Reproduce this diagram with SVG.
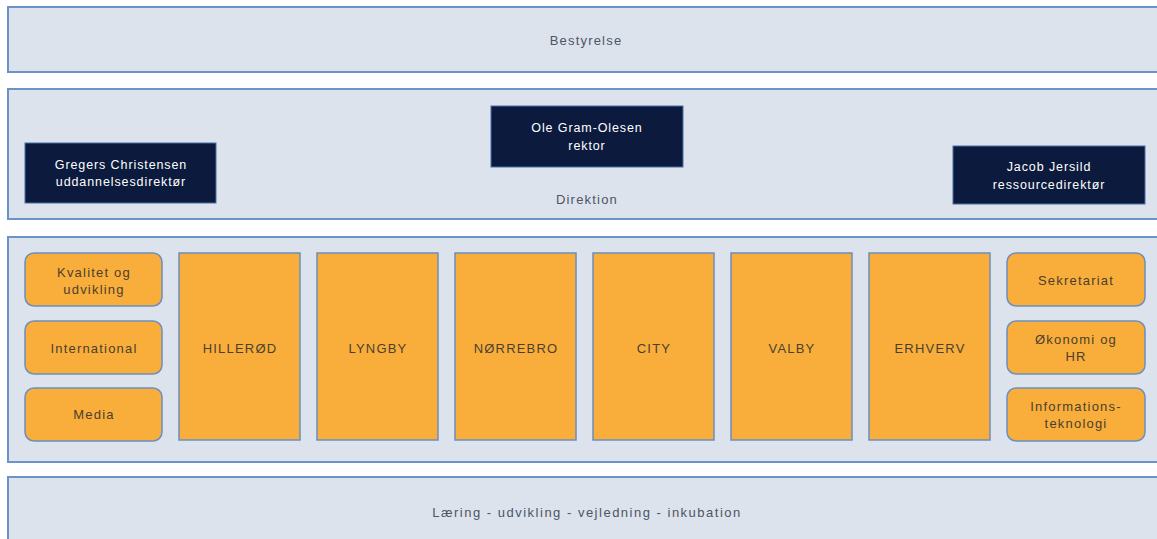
<svg xmlns="http://www.w3.org/2000/svg" width="1157" height="539" viewBox="0 0 1157 539">
<style>
.band{fill:#dce3ec;stroke:#6b93c9;stroke-width:2}
.dark{fill:#0b1a3d;stroke:#4a6fa8;stroke-width:1}
.org{fill:#f9ae3c;stroke:#6a8fc0;stroke-width:1.5}
text{font-family:"Liberation Sans",Arial,sans-serif;font-size:13px;letter-spacing:1.2px;text-anchor:middle}
.bt{fill:#4d5566}
.wide{letter-spacing:1.5px}
.wt{fill:#ffffff;font-size:12.5px;letter-spacing:0.9px}
.ot{fill:#4a3f2c}
</style>
<rect width="1157" height="539" fill="#ffffff"/>
<g id="bestyrelse">
<rect class="band" x="8" y="7" width="1170" height="65"/>
<text class="bt" x="586" y="45">Bestyrelse</text>
</g>
<g id="direktion">
<rect class="band" x="8" y="89" width="1170" height="130"/>
<text class="bt" x="587" y="204">Direktion</text>
</g>
<g id="gregers">
<rect class="dark" x="25" y="143" width="191" height="60"/>
<text class="wt" x="121" y="169">Gregers Christensen</text>
<text class="wt" x="121" y="186">uddannelsesdirektør</text>
</g>
<g id="ole">
<rect class="dark" x="491" y="106" width="192" height="61"/>
<text class="wt" x="587" y="132">Ole Gram-Olesen</text>
<text class="wt" x="587" y="150">rektor</text>
</g>
<g id="jacob">
<rect class="dark" x="953" y="146" width="192" height="58"/>
<text class="wt" x="1049" y="171">Jacob Jersild</text>
<text class="wt" x="1049" y="189">ressourcedirektør</text>
</g>
<g id="enheder">
<rect class="band" x="8" y="237" width="1170" height="225"/>
</g>
<g id="kvalitet">
<rect class="org" x="25" y="253" width="137" height="53" rx="9"/>
<text class="ot" x="94" y="277">Kvalitet og</text>
<text class="ot" x="94" y="294">udvikling</text>
</g>
<g id="international">
<rect class="org" x="25" y="321" width="137" height="53" rx="9"/>
<text class="ot" x="94" y="353">International</text>
</g>
<g id="media">
<rect class="org" x="25" y="388" width="137" height="53" rx="9"/>
<text class="ot" x="94" y="419">Media</text>
</g>
<g id="hilleroed">
<rect class="org" x="179" y="253" width="121" height="187"/>
<text class="ot" x="240" y="353">HILLERØD</text>
</g>
<g id="lyngby">
<rect class="org" x="317" y="253" width="121" height="187"/>
<text class="ot" x="378" y="353">LYNGBY</text>
</g>
<g id="noerrebro">
<rect class="org" x="455" y="253" width="121" height="187"/>
<text class="ot" x="516" y="353">NØRREBRO</text>
</g>
<g id="city">
<rect class="org" x="593" y="253" width="121" height="187"/>
<text class="ot" x="654" y="353">CITY</text>
</g>
<g id="valby">
<rect class="org" x="731" y="253" width="121" height="187"/>
<text class="ot" x="792" y="353">VALBY</text>
</g>
<g id="erhverv">
<rect class="org" x="869" y="253" width="121" height="187"/>
<text class="ot" x="930" y="353">ERHVERV</text>
</g>
<g id="sekretariat">
<rect class="org" x="1007" y="253" width="138" height="53" rx="9"/>
<text class="ot" x="1076" y="285">Sekretariat</text>
</g>
<g id="oekonomi">
<rect class="org" x="1007" y="321" width="138" height="53" rx="9"/>
<text class="ot" x="1076" y="344">Økonomi og</text>
<text class="ot" x="1076" y="361">HR</text>
</g>
<g id="it">
<rect class="org" x="1007" y="388" width="138" height="53" rx="9"/>
<text class="ot" x="1076" y="411">Informations-</text>
<text class="ot" x="1076" y="428">teknologi</text>
</g>
<g id="laering">
<rect class="band" x="8" y="477" width="1170" height="80"/>
<text class="bt wide" x="587" y="517">Læring - udvikling - vejledning - inkubation</text>
</g>
<g id="connectors"></g>
</svg>
